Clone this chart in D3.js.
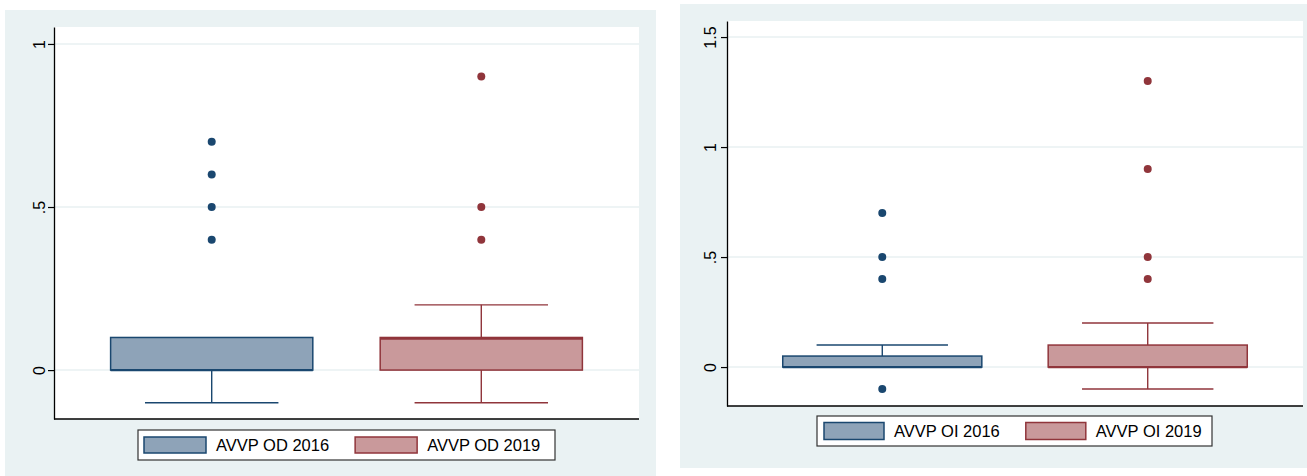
<!DOCTYPE html>
<html>
<head>
<meta charset="utf-8">
<script src="https://cdn.jsdelivr.net/npm/d3@7"></script>
<style>
  body { margin: 0; background: #fff; }
  svg { display: block; font-family: 'Liberation Sans', Arial, sans-serif; }
</style>
</head>
<body>
<svg id="chart" width="1307" height="476"></svg>
<script>
// values
const odGroups = ['AVVP OD 2016', 'AVVP OD 2019']
const odLow = [-0.1, -0.1]
const odQ1 = [0, 0]
const odMedian = [0, 0.1]
const odQ3 = [0.1, 0.1]
const odHigh = [0.1, 0.2]
const odOutliers = [[0.4, 0.5, 0.6, 0.7], [0.4, 0.5, 0.9]]
const odTicks = [0, 0.5, 1]

const oiGroups = ['AVVP OI 2016', 'AVVP OI 2019']
const oiLow = [0, -0.1]
const oiQ1 = [0, 0]
const oiMedian = [0, 0]
const oiQ3 = [0.05, 0.1]
const oiHigh = [0.1, 0.2]
const oiOutliers = [[-0.1, 0.4, 0.5, 0.7], [0.4, 0.5, 0.9, 1.3]]
const oiTicks = [0, 0.5, 1, 1.5]

const fills = ['#8ea3b8', '#c9999b']
const strokes = ['#1a476f', '#90353b']
const bgColor = '#eaf2f3'
const gridColor = '#e8f0f2'

const svg = d3.select('#chart')

// stata style: 0.5 -> ".5"
const fmtTick = (d) => String(d).replace(/^0\./, '.')

function drawPanel(p) {
  const g = svg.append('g')

  g.append('rect')
    .attr('x', p.bg.x).attr('y', p.bg.y)
    .attr('width', p.bg.w).attr('height', p.bg.h)
    .attr('fill', bgColor)

  const plot = g.append('g')
    .attr('transform', `translate(${p.plot.x}, ${p.plot.y})`)

  plot.append('rect')
    .attr('width', p.plot.w).attr('height', p.plot.h)
    .attr('fill', '#fff')

  const x = d3.scaleBand()
    .domain(p.groups)
    .range([0, p.plot.w])
    .paddingInner(0.25)
    .paddingOuter(0.21)
  const y = d3.scaleLinear()
    .domain(p.yDomain)
    .range([p.plot.h, 0])

  // grid
  plot.append('g')
    .selectAll('line')
    .data(p.ticks)
    .enter()
    .append('line')
    .attr('x1', 0).attr('x2', p.plot.w)
    .attr('y1', (d) => y(d)).attr('y2', (d) => y(d))
    .attr('stroke', gridColor)
    .attr('stroke-width', 1.5)

  // boxes
  const bw = x.bandwidth()
  const capW = bw * 0.66
  p.groups.forEach((grp, i) => {
    const cx = x(grp) + bw / 2
    const bx = plot.append('g')
    const col = strokes[i]

    const whisk = [[p.low[i], p.q1[i]], [p.q3[i], p.high[i]]]
    whisk.forEach(([a, b]) => {
      if (a === b) return
      bx.append('line')
        .attr('x1', cx).attr('x2', cx)
        .attr('y1', y(a)).attr('y2', y(b))
        .attr('stroke', col).attr('stroke-width', 1.4)
    })
    ;[p.low[i], p.high[i]].forEach((v, k) => {
      if (v === (k === 0 ? p.q1[i] : p.q3[i])) return
      bx.append('line')
        .attr('x1', cx - capW / 2).attr('x2', cx + capW / 2)
        .attr('y1', y(v)).attr('y2', y(v))
        .attr('stroke', col).attr('stroke-width', 1.4)
    })

    bx.append('rect')
      .attr('x', x(grp))
      .attr('y', y(p.q3[i]))
      .attr('width', bw)
      .attr('height', y(p.q1[i]) - y(p.q3[i]))
      .attr('fill', fills[i])
      .attr('stroke', col)
      .attr('stroke-width', 1.5)

    bx.append('line')
      .attr('x1', x(grp)).attr('x2', x(grp) + bw)
      .attr('y1', y(p.median[i]) + (p.median[i] === p.q3[i] ? 1.2 : 0))
      .attr('y2', y(p.median[i]) + (p.median[i] === p.q3[i] ? 1.2 : 0))
      .attr('stroke', col)
      .attr('stroke-width', 2.2)

    bx.selectAll('circle')
      .data(p.outliers[i])
      .enter()
      .append('circle')
      .attr('cx', cx)
      .attr('cy', (d) => y(d))
      .attr('r', 4)
      .attr('fill', col)
  })

  // y axis
  const yAxis = plot.append('g')
    .call(d3.axisLeft(y).tickValues(p.ticks).tickFormat(fmtTick).tickSize(6).tickSizeOuter(0))
  yAxis.select('.domain').attr('stroke', '#000').attr('stroke-width', 1.3)
  yAxis.selectAll('.tick line').attr('stroke', '#000').attr('stroke-width', 1.2)
  yAxis.selectAll('.tick text')
    .attr('x', 0)
    .attr('y', -p.labelGap)
    .attr('dy', 0)
    .attr('text-anchor', 'middle')
    .attr('transform', 'rotate(-90)')
    .attr('fill', '#000')
    .style('font-size', '16px')
    .style('font-family', "'Liberation Sans', Arial, sans-serif")

  // x axis line
  plot.append('line')
    .attr('x1', 0).attr('x2', p.plot.w)
    .attr('y1', p.plot.h).attr('y2', p.plot.h)
    .attr('stroke', '#000').attr('stroke-width', 1.3)

  // legend
  const lg = g.append('g')
    .attr('transform', `translate(${p.legend.x}, ${p.legend.y})`)
  lg.append('rect')
    .attr('width', p.legend.w).attr('height', p.legend.h)
    .attr('fill', '#fff')
    .attr('stroke', '#333')
    .attr('stroke-width', 1.2)
  let lx = p.legend.pad
  p.groups.forEach((grp, i) => {
    lg.append('rect')
      .attr('x', lx)
      .attr('y', (p.legend.h - p.legend.sh) / 2)
      .attr('width', p.legend.sw)
      .attr('height', p.legend.sh)
      .attr('fill', fills[i])
      .attr('stroke', strokes[i])
      .attr('stroke-width', 1.5)
    const t = lg.append('text')
      .attr('x', lx + p.legend.sw + 10)
      .attr('y', p.legend.h / 2 + 5.8)
      .style('font-size', '16.5px')
      .attr('fill', '#000')
      .text(grp)
    lx += p.legend.sw + 10 + t.node().getComputedTextLength() + 26
  })
}

drawPanel({
  groups: odGroups, low: odLow, q1: odQ1, median: odMedian, q3: odQ3, high: odHigh,
  outliers: odOutliers, ticks: odTicks,
  yDomain: [-0.15, 1.052],
  bg: {x: 5, y: 10, w: 651, h: 466},
  plot: {x: 54, y: 27, w: 585, h: 392},
  labelGap: 9,
  legend: {x: 138, y: 430, w: 417, h: 30, pad: 6, sw: 62, sh: 16},
})

drawPanel({
  groups: oiGroups, low: oiLow, q1: oiQ1, median: oiMedian, q3: oiQ3, high: oiHigh,
  outliers: oiOutliers, ticks: oiTicks,
  yDomain: [-0.177, 1.573],
  bg: {x: 680, y: 4, w: 627, h: 464},
  plot: {x: 727, y: 21, w: 576, h: 385},
  labelGap: 11,
  legend: {x: 817, y: 416, w: 395, h: 30, pad: 7, sw: 60, sh: 17},
})
</script>
</body>
</html>
